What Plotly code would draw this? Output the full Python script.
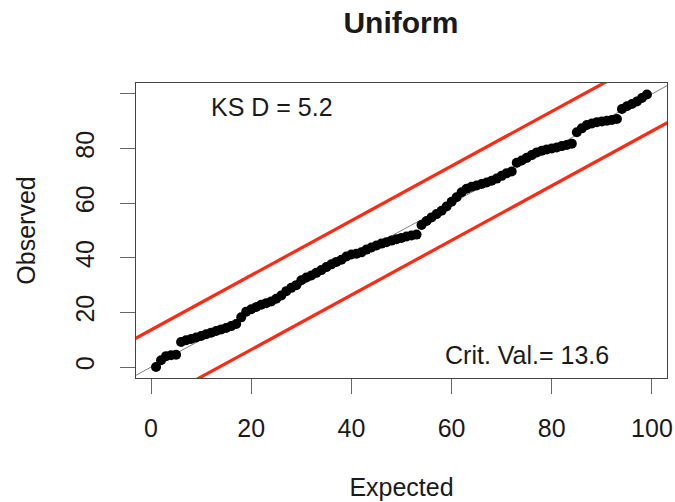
import plotly.graph_objects as go

# Uniform Q-Q style comparison: observed vs expected values
expected = list(range(1, 100))
observed = [
    0.0, 2.5, 4.0, 4.3, 4.5, 9.2, 9.8, 10.3, 10.8, 11.4,
    12.0, 12.6, 13.2, 13.8, 14.3, 15.0, 15.8, 18.2, 20.3, 21.2,
    22.0, 22.8, 23.4, 24.0, 25.0, 26.2, 27.8, 29.0, 30.0, 31.8,
    32.8, 33.5, 34.5, 35.5, 36.6, 37.6, 38.5, 39.3, 40.5, 41.2,
    41.5, 42.0, 43.0, 43.8, 44.5, 45.2, 45.7, 46.3, 46.8, 47.3,
    47.8, 48.2, 48.5, 52.0, 53.5, 54.8, 56.0, 57.2, 58.8, 60.5,
    62.2, 64.0, 65.3, 66.0, 66.5, 67.0, 67.6, 68.2, 69.0, 70.0,
    71.0, 71.6, 74.8, 75.6, 76.6, 77.6, 78.6, 79.2, 79.7, 80.0,
    80.4, 80.9, 81.3, 81.8, 86.0, 87.4, 88.6, 89.2, 89.6, 89.9,
    90.2, 90.5, 90.8, 94.5, 95.5, 96.3, 97.2, 98.5, 99.8,
]

ks_d = 5.2
crit_val = 13.6
x_range = [-3.0, 103.0]
y_range = [-4.0, 104.0]
x_ticks = [0, 20, 40, 60, 80, 100]
y_ticks = [0, 20, 40, 60, 80, 100]
y_tick_text = ["0", "20", "40", "60", "80", ""]

FONT = "Liberation Sans, Arial, Helvetica, sans-serif"
FS = 25
ink = "#1a1a1a"
red = "#FF2A14"

line_x = [x_range[0] - 10, x_range[1] + 10]

fig = go.Figure()

# reference diagonal (under the points)
fig.add_trace(go.Scatter(
    x=line_x, y=line_x, mode="lines",
    line=dict(color="#808080", width=1),
    showlegend=False, hoverinfo="skip",
))

fig.add_trace(go.Scatter(
    x=expected, y=observed, mode="markers",
    marker=dict(color="black", size=10, line=dict(width=0)),
    showlegend=False, hoverinfo="skip",
))

# critical-value bands
fig.add_trace(go.Scatter(
    x=line_x, y=[v + crit_val for v in line_x], mode="lines",
    line=dict(color=red, width=3.2),
    showlegend=False, hoverinfo="skip",
))
fig.add_trace(go.Scatter(
    x=line_x, y=[v - crit_val for v in line_x], mode="lines",
    line=dict(color=red, width=3.2),
    showlegend=False, hoverinfo="skip",
))

fig.add_annotation(
    x=24.2, y=95.3, xref="x", yref="y", showarrow=False,
    text=f"KS D = {ks_d}", font=dict(family=FONT, size=FS, color=ink),
)
fig.add_annotation(
    x=75.1, y=4.3, xref="x", yref="y", showarrow=False,
    text=f"Crit. Val.= {crit_val}", font=dict(family=FONT, size=FS, color=ink),
)

fig.update_layout(
    width=675, height=502,
    margin=dict(l=136, r=8, t=83, b=124, pad=0, autoexpand=False),
    paper_bgcolor="white", plot_bgcolor="white",
    font=dict(family=FONT, size=FS, color=ink),
    title=dict(
        text="<b>Uniform</b>", x=0.594, xanchor="center",
        y=1 - 22 / 502, yanchor="middle",
        font=dict(family=FONT, size=30, color=ink),
    ),
)

fig.update_xaxes(
    range=x_range, tickvals=x_ticks, ticktext=[str(t) for t in x_ticks],
    showgrid=False, zeroline=False, automargin=False,
    showline=True, mirror=True, linecolor="#444", linewidth=1,
    ticks="outside", ticklen=15, tickcolor="#666", tickwidth=1,
    ticklabelstandoff=13,
    tickfont=dict(family=FONT, size=FS, color=ink),
    title=dict(text="Expected", standoff=37,
               font=dict(family=FONT, size=FS, color=ink)),
)
fig.update_yaxes(
    range=y_range, tickvals=y_ticks, ticktext=y_tick_text,
    showgrid=False, zeroline=False, automargin=False,
    showline=True, mirror=True, linecolor="#444", linewidth=1,
    ticks="outside", ticklen=15, tickcolor="#666", tickwidth=1,
    tickangle=-90, ticklabelstandoff=16,
    tickfont=dict(family=FONT, size=FS, color=ink),
    title=dict(text="Observed", standoff=28,
               font=dict(family=FONT, size=FS, color=ink)),
)

fig.write_html("out.html")
